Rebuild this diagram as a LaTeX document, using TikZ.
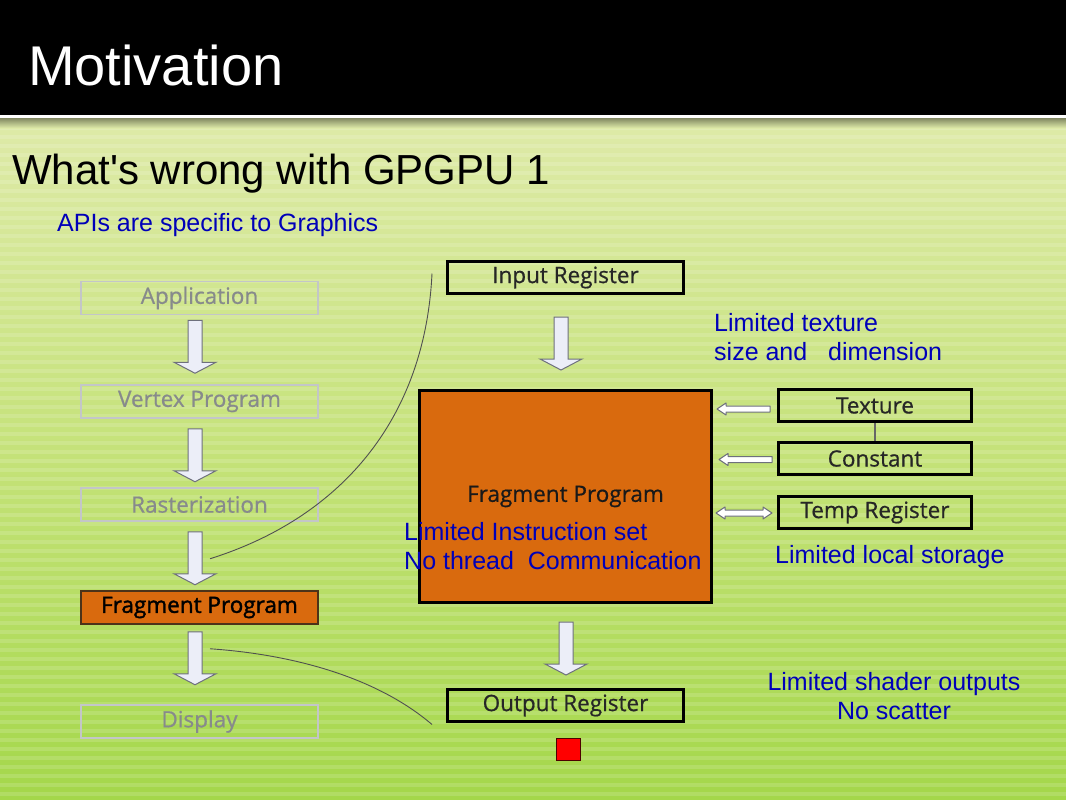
\documentclass[tikz,border=0pt]{standalone}
\usepackage{fontspec}
\setmainfont{Liberation Sans}
\newfontfamily\plainarial{Liberation Sans}
\newfontfamily\segoe[FakeBold=0.7]{Open Sans}
\newfontfamily\segoeb[FakeBold=1.6]{Open Sans}
\usetikzlibrary{calc}
\definecolor{bgtop}{RGB}{222,234,168}
\definecolor{bgmid}{RGB}{196,226,120}
\definecolor{bgbot}{RGB}{164,215,74}
\definecolor{frag}{RGB}{217,106,14}
\definecolor{note}{RGB}{0,0,185}
\definecolor{ghost}{RGB}{135,138,140}
\definecolor{ghostline}{RGB}{195,198,200}
\definecolor{arrfill}{RGB}{236,238,248}
\definecolor{arrline}{RGB}{110,112,125}
\definecolor{curvec}{RGB}{80,80,80}
\begin{document}
\begin{tikzpicture}[x=1pt,y=-1pt,
  ghostbox/.style={draw=ghostline, line width=1.5pt, minimum width=237pt, minimum height=33pt, inner sep=0pt, font=\segoe\fontsize{22.5}{24}\selectfont, text=ghost},
  fragsmall/.style={draw=black!60!brown, fill=frag, line width=1.5pt, minimum width=237pt, minimum height=33pt, inner sep=0pt, font=\segoeb\fontsize{22.5}{24}\selectfont, text=black},
  regbox/.style={draw=black, line width=3pt, minimum width=236pt, minimum height=32pt, inner sep=0pt, font=\segoe\fontsize{22.5}{24}\selectfont, text=black!85},
  smallbox/.style={draw=black, line width=3pt, minimum width=193pt, minimum height=32pt, inner sep=0pt, font=\segoe\fontsize{22.5}{24}\selectfont, text=black!85},
  bigbox/.style={draw=black, fill=frag, line width=3pt, minimum width=292pt, minimum height=212pt, inner sep=0pt, font=\segoe\fontsize{22.5}{24}\selectfont, text=black!90},
  blk/.style={draw=arrline, fill=arrfill, line width=1pt, line join=miter},
  thinarr/.style={draw=arrline, fill=white, line width=1pt, line join=round},
  curve/.style={draw=curvec, line width=0.9pt},
  notetext/.style={text=note, font=\fontsize{25}{29}\selectfont, inner sep=0pt},
]
\useasboundingbox (0,0) rectangle (1066,800);
% background
\shade[top color=bgtop, bottom color=bgmid] (0,120) rectangle (1066,460);
\shade[top color=bgmid, bottom color=bgbot] (0,459.5) rectangle (1066,800);
\foreach \yy in {126,135,...,800} {
  \fill[white, opacity=0.14] (0,\yy) rectangle (1066,\yy+4);
}
\fill[black] (0,0) rectangle (1066,115);
\fill[white] (0,115) rectangle (1066,118.5);
\shade[top color=black!40!bgtop, bottom color=bgtop] (0,118.5) rectangle (1066,128);

% titles
\node[anchor=base west, text=white, font=\fontsize{56}{60}\selectfont, inner sep=0pt] (title) at (28,85) {Motivation};
\node[anchor=base west, text=black, font=\plainarial\fontsize{42}{46}\selectfont, inner sep=0pt] (subtitle) at (12,184) {What's wrong with GPGPU 1};
\node[anchor=base west, notetext] (apis) at (57,231) {APIs are specific to Graphics};

% left pipeline
\node[ghostbox] (app) at (199.5,298) {Application};
\node[ghostbox] (vp) at (199.5,401.5) {Vertex Program};
\node[ghostbox] (ras) at (199.5,504.5) {Rasterization};
\node[fragsmall] (fps) at (199.5,607.5) {Fragment Program};
\node[ghostbox] (disp) at (199.5,721.5) {Display};

\coordinate (a1) at ($(app.south)+(-4.5,5)$);
\coordinate (a2) at ($(vp.south)+(-4.5,10)$);
\coordinate (a3) at ($(ras.south)+(-4.5,10)$);
\coordinate (a4) at ($(fps.south)+(-4.5,7)$);
\foreach \a in {a1,a2,a3,a4} {
  \draw[blk] (\a) ++(-7,0) -- ++(0,42) -- ++(-14,0) -- ++(21,11) -- ++(21,-11) -- ++(-14,0) -- ++(0,-42) -- cycle;
}

% right detail
\node[regbox] (inreg) at (565.5,277.5) {Input Register};
\node[bigbox] (big) at (565.5,496.5) {Fragment Program};
\node[regbox] (outreg) at (565.5,705.5) {Output Register};
\node[draw=black!70!red, fill=red, line width=1pt, minimum width=24pt, minimum height=22pt, inner sep=0pt] (red) at (568.5,749.5) {};

\coordinate (b1) at ($(inreg.south)+(-4.5,22)$);
\coordinate (b2) at ($(big.south)+(0.5,18)$);
\foreach \a in {b1,b2} {
  \draw[blk] (\a) ++(-7,0) -- ++(0,42) -- ++(-14,0) -- ++(21,11) -- ++(21,-11) -- ++(-14,0) -- ++(0,-42) -- cycle;
}

\node[smallbox] (tex) at (875,405.5) {Texture};
\node[smallbox] (const) at (875,458.5) {Constant};
\node[smallbox] (temp) at (875,512.5) {Temp Register};
\draw[line width=1.2pt, draw=black!60] (tex.south) -- (const.north);

\coordinate (t1) at ($(tex.west)+(-7,3.5)$);
\coordinate (t2) at ($(const.west)+(-5,1)$);
\draw[thinarr] (t1) ++(0,-3) -- ++(-44,0) -- ++(0,-3) -- ++(-9,6) -- ++(9,6) -- ++(0,-3) -- ++(44,0) -- cycle;
\draw[thinarr] (t2) ++(0,-3) -- ++(-44,0) -- ++(0,-3) -- ++(-9,6) -- ++(9,6) -- ++(0,-3) -- ++(44,0) -- cycle;
\coordinate (t3) at ($(big.east)+(3,16.5)$);
\draw[thinarr] (t3) -- ++(9,-6) -- ++(0,3) -- ++(38,0) -- ++(0,-3) -- ++(9,6) -- ++(-9,6) -- ++(0,-3) -- ++(-38,0) -- ++(0,3) -- cycle;

% zoom curves
\coordinate (c1s) at ($(a3)+(15,27)$);
\coordinate (c1e) at ($(inreg.west)+(-14,-4)$);
\coordinate (c2s) at ($(a4)+(15,17)$);
\coordinate (c2e) at ($(outreg.west)+(-14,19)$);
\draw[curve] (c1s) .. controls (340,518) and (425,420) .. (c1e);
\draw[curve] (c2s) .. controls (300,655) and (380,680) .. (c2e);

% notes
\node[anchor=base west, notetext] (n1) at (714,331) {Limited texture};
\node[anchor=base west, notetext] (n2) at (714,360) {size and \ \ dimension};
\node[anchor=base west, notetext] (n3) at (404,540) {Limited Instruction set};
\node[anchor=base west, notetext] (n4) at (404,569) {No thread \ Communication};
\node[anchor=base west, notetext] (n5) at (775,563) {Limited local storage};
\node[anchor=base, notetext] (n6) at (894,690) {Limited shader outputs};
\node[anchor=base, notetext] (n7) at (894,719) {No scatter};
\end{tikzpicture}
\end{document}
